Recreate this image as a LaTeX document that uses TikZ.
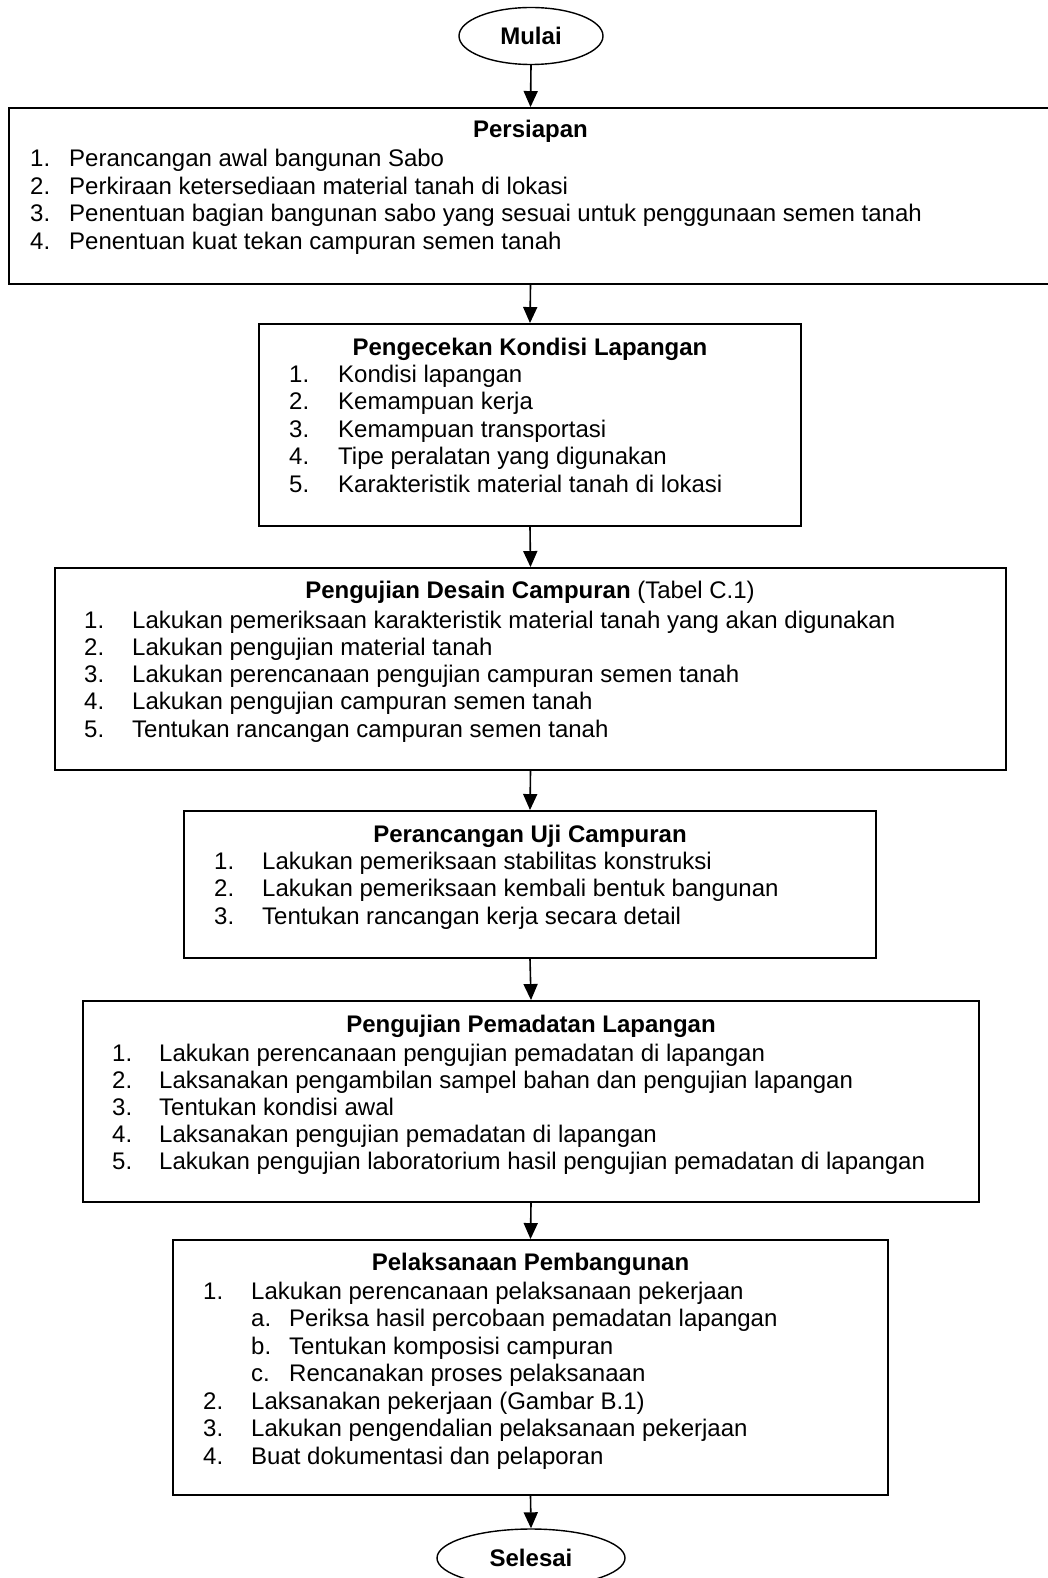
\documentclass[tikz,border=0pt]{standalone}
\usepackage{fontspec}
\setmainfont{Liberation Sans}
\usepackage{tikz}
\usetikzlibrary{arrows.meta,positioning,shapes.geometric}

\tikzset{
  stage/.style={draw, line width=1.9pt, rectangle, inner sep=0pt},
  terminal/.style={draw, line width=1.4pt, ellipse, inner sep=0pt,
    font=\fontsize{24}{27}\selectfont\bfseries},
  head/.style={anchor=base, inner sep=0pt, font=\fontsize{24}{27}\selectfont\bfseries},
  item/.style={anchor=base west, inner sep=0pt, font=\fontsize{24}{27}\selectfont},
  flow/.style={line width=1.6pt, -{Triangle[length=16pt, width=14pt]}}
}

\begin{document}
\begin{tikzpicture}[x=1pt, y=-1pt]
  \useasboundingbox (0,0) rectangle (1048,1578);

  % start and end
  \node[terminal, minimum width=144, minimum height=57] (mulai) at (531,36) {Mulai};
  \node[terminal, minimum width=188, minimum height=58] (selesai) at (531,1558) {Selesai};

  % stage boxes: centre and size in pixels of the page
  \node[stage, minimum width=1043, minimum height=176] (persiapan) at (530.5,196) {};
  \node[stage, minimum width=542, minimum height=202] (cek) at (530,425) {};
  \node[stage, minimum width=951, minimum height=202] (desain) at (530.5,669) {};
  \node[stage, minimum width=692, minimum height=147] (ujicamp) at (530,884.5) {};
  \node[stage, minimum width=896, minimum height=201] (pemadatan) at (531,1101.5) {};
  \node[stage, minimum width=715, minimum height=255] (pelaksanaan) at (530.5,1367.5) {};

  % Persiapan
  \node[head] (persiapanHead) at (530.5,138) {Persiapan};
  \foreach \t [count=\i] in {{Perancangan awal bangunan Sabo},
      {Perkiraan ketersediaan material tanah di lokasi},
      {Penentuan bagian bangunan sabo yang sesuai untuk penggunaan semen tanah},
      {Penentuan kuat tekan campuran semen tanah}} {
    \node[item] (persiapanNo\i) at (30,{167+27.5*(\i-1)}) {\i.};
    \node[item] (persiapanIt\i) at (69,{167+27.5*(\i-1)}) {\t};
  }

  % Pengecekan Kondisi Lapangan
  \node[head] (cekHead) at (530,355) {Pengecekan Kondisi Lapangan};
  \foreach \t [count=\i] in {{Kondisi lapangan}, {Kemampuan kerja},
      {Kemampuan transportasi}, {Tipe peralatan yang digunakan},
      {Karakteristik material tanah di lokasi}} {
    \node[item] (cekNo\i) at (289,{382+27.6*(\i-1)}) {\i.};
    \node[item] (cekIt\i) at (338,{382+27.6*(\i-1)}) {\t};
  }

  % Pengujian Desain Campuran
  \node[head] (desainHead) at (530,598) {Pengujian Desain Campuran \mdseries(Tabel C.1)};
  \foreach \t [count=\i] in {{Lakukan pemeriksaan karakteristik material tanah yang akan digunakan},
      {Lakukan pengujian material tanah},
      {Lakukan perencanaan pengujian campuran semen tanah},
      {Lakukan pengujian campuran semen tanah},
      {Tentukan rancangan campuran semen tanah}} {
    \node[item] (desainNo\i) at (84,{628+27.3*(\i-1)}) {\i.};
    \node[item] (desainIt\i) at (132,{628+27.3*(\i-1)}) {\t};
  }

  % Perancangan Uji Campuran
  \node[head] (ujicampHead) at (530,842) {Perancangan Uji Campuran};
  \foreach \t [count=\i] in {{Lakukan pemeriksaan stabilitas konstruksi},
      {Lakukan pemeriksaan kembali bentuk bangunan},
      {Tentukan rancangan kerja secara detail}} {
    \node[item] (ujicampNo\i) at (214,{869+27.5*(\i-1)}) {\i.};
    \node[item] (ujicampIt\i) at (262,{869+27.5*(\i-1)}) {\t};
  }

  % Pengujian Pemadatan Lapangan
  \node[head] (pemadatanHead) at (531,1032) {Pengujian Pemadatan Lapangan};
  \foreach \t [count=\i] in {{Lakukan perencanaan pengujian pemadatan di lapangan},
      {Laksanakan pengambilan sampel bahan dan pengujian lapangan},
      {Tentukan kondisi awal},
      {Laksanakan pengujian pemadatan di lapangan},
      {Lakukan pengujian laboratorium hasil pengujian pemadatan di lapangan}} {
    \node[item] (pemadatanNo\i) at (112,{1061+27.2*(\i-1)}) {\i.};
    \node[item] (pemadatanIt\i) at (159,{1061+27.2*(\i-1)}) {\t};
  }

  % Pelaksanaan Pembangunan: label / label x / text x / text
  \node[head] (pelaksanaanHead) at (530.5,1270) {Pelaksanaan Pembangunan};
  \foreach \l/\lx/\tx/\t [count=\i] in {1./203/251/{Lakukan perencanaan pelaksanaan pekerjaan},
      a./251/289/{Periksa hasil percobaan pemadatan lapangan},
      b./251/289/{Tentukan komposisi campuran},
      c./251/289/{Rencanakan proses pelaksanaan},
      2./203/251/{Laksanakan pekerjaan (Gambar B.1)},
      3./203/251/{Lakukan pengendalian pelaksanaan pekerjaan},
      4./203/251/{Buat dokumentasi dan pelaporan}} {
    \node[item] (pelaksanaanNo\i) at (\lx,{1299+27.5*(\i-1)}) {\l};
    \node[item] (pelaksanaanIt\i) at (\tx,{1299+27.5*(\i-1)}) {\t};
  }

  % connectors
  \draw[flow] (mulai.south) -- (persiapan.north);
  \draw[flow] (persiapan.south) -- (cek.north);
  \draw[flow] (cek.south) -- (desain.north);
  \draw[flow] (desain.south) -- (ujicamp.north);
  \draw[flow] (ujicamp.south) -- (pemadatan.north);
  \draw[flow] (pemadatan.south) -- (pelaksanaan.north);
  \draw[flow] (pelaksanaan.south) -- (selesai.north);
\end{tikzpicture}
\end{document}
